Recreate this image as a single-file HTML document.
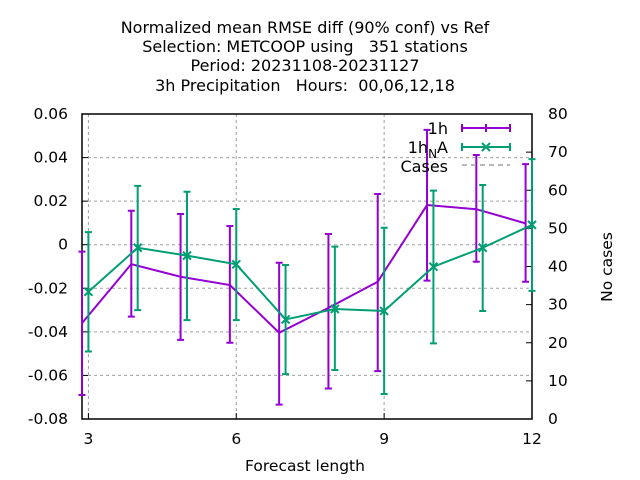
<!DOCTYPE html>
<html><head><meta charset="utf-8"><style>
body{margin:0;background:#fff;}
svg{display:block;font-family:"DejaVu Sans","Liberation Sans",sans-serif;}
text{white-space:pre;}
</style></head><body>
<svg id="chart" width="640" height="480" viewBox="0 0 640 480">
<g font-size="16" text-anchor="middle" fill="#000">
<text x="305" y="33" xml:space="preserve">Normalized mean RMSE diff (90% conf) vs Ref</text>
<text x="305" y="52" xml:space="preserve">Selection: METCOOP using   351 stations</text>
<text x="305" y="71" xml:space="preserve">Period: 20231108-20231127</text>
<text x="305" y="91" xml:space="preserve">3h Precipitation   Hours:  00,06,12,18</text>
</g>
<text x="305" y="471" font-size="15.5" text-anchor="middle">Forecast length</text>
<text x="0" y="0" font-size="15.5" text-anchor="middle" transform="translate(612,267) rotate(-90)">No cases</text>
<g id="grid"></g><g id="axes"></g><g id="series"></g>
<g font-size="16" text-anchor="end">
<text x="448" y="134">1h</text>
<text x="448" y="153"><tspan>1h</tspan><tspan dy="5" font-size="12">N</tspan><tspan dy="-5">A</tspan></text>
<text x="448" y="172">Cases</text>
<g stroke="#9400d3" stroke-width="2"><line x1="462" y1="128" x2="510" y2="128"/><line x1="462" y1="124" x2="462" y2="132"/><line x1="510" y1="124" x2="510" y2="132"/><line x1="486" y1="124" x2="486" y2="132"/></g>
<g stroke="#009e73" stroke-width="2"><line x1="462" y1="147" x2="510" y2="147"/><line x1="462" y1="143" x2="462" y2="151"/><line x1="510" y1="143" x2="510" y2="151"/><path d="M482 143 L490 151 M482 151 L490 143"/></g>
<line x1="462" y1="165" x2="510" y2="165" stroke="#a0a0a0" stroke-width="1.5" stroke-dasharray="5,4"/>
</g>
</svg>
<script>
const xTicks=[3,6,9,12];
const yTicks=[-0.08,-0.06,-0.04,-0.02,0,0.02,0.04,0.06];
const yTickLabels=["-0.08","-0.06","-0.04","-0.02","0","0.02","0.04","0.06"];
const y2Ticks=[0,10,20,30,40,50,60,70,80];
const x1h=[2.87,3.87,4.87,5.87,6.87,7.87,8.87,9.87,10.87,11.87];
const v1h=[-0.036,-0.0089,-0.0147,-0.0185,-0.0404,-0.029,-0.017,0.0182,0.0163,0.0098];
const lo1h=[-0.069,-0.033,-0.0437,-0.045,-0.0734,-0.066,-0.058,-0.0165,-0.0078,-0.017];
const hi1h=[-0.0032,0.0156,0.0141,0.0086,-0.0083,0.0049,0.0233,0.0527,0.0412,0.037];
const xNA=[3,4,5,6,7,8,9,10,11,12];
const vNA=[-0.0216,-0.0014,-0.005,-0.009,-0.0343,-0.0295,-0.0304,-0.0101,-0.0014,0.0091];
const loNA=[-0.049,-0.030,-0.0346,-0.0346,-0.0594,-0.0575,-0.0685,-0.0453,-0.0304,-0.0212];
const hiNA=[0.0058,0.027,0.0243,0.0164,-0.0093,-0.0009,0.0078,0.0248,0.0274,0.0393];

const L=82,R=532,T=114,B=419,XMIN=2.87,XMAX=12,YMIN=-0.08,YMAX=0.06;
const sx=v=>L+(v-XMIN)/(XMAX-XMIN)*(R-L);
const sy=v=>B-(v-YMIN)/(YMAX-YMIN)*(B-T);
const sy2=v=>B-v/80*(B-T);
const NS="http://www.w3.org/2000/svg";
function mk(tag,attrs,parent){const e=document.createElementNS(NS,tag);for(const k in attrs)e.setAttribute(k,attrs[k]);parent.appendChild(e);return e;}
const grid=document.getElementById('grid'),axes=document.getElementById('axes'),ser=document.getElementById('series');
yTicks.forEach((t,i)=>{
  const y=sy(t);
  if(i>0&&i<yTicks.length-1){const g=mk('line',{x1:L,x2:R,y1:y,y2:y,stroke:'#a0a0a0','stroke-dasharray':'3,3','stroke-width':1},grid);
  
  }
  const tk=mk('line',{x1:L,x2:L+6,y1:y,y2:y,stroke:'#000'},axes);
  
  
  const tx=mk('text',{x:L-14,y:y+5,'font-size':15.5,'text-anchor':'end'},axes);tx.textContent=yTickLabels[i];
  
  
});
xTicks.forEach(t=>{
  const x=sx(t);
  if(t<12){const g=mk('line',{x1:x,x2:x,y1:T,y2:B,stroke:'#a0a0a0','stroke-dasharray':'3,3'},grid);
  
  }
  const tk=mk('line',{x1:x,x2:x,y1:B,y2:B-6,stroke:'#000'},axes);
  
  
  const tx=mk('text',{x:x,y:B+25,'font-size':15.5,'text-anchor':'middle'},axes);tx.textContent=t;
  
  
});
y2Ticks.forEach(t=>{
  const y=sy2(t);
  const tk=mk('line',{x1:R,x2:R-6,y1:y,y2:y,stroke:'#000'},axes);
  
  
  const tx=mk('text',{x:R+16,y:y+5,'font-size':15.5,'text-anchor':'start'},axes);tx.textContent=t;
  
  
});
const fr=mk('rect',{x:L,y:T,width:R-L,height:B-T,fill:'none',stroke:'#000','stroke-width':1.5},axes);



function series(xs,vs,lo,hi,color,name,cross){
  const g=mk('g',{stroke:color,'stroke-width':2,fill:'none'},ser);
  
  
  const line=mk('polyline',{points:xs.map((x,i)=>sx(x)+','+sy(vs[i])).join(' ')},g);
  
  
  xs.forEach((x,i)=>{
    const px=sx(x),a=sy(hi[i]),b=sy(lo[i]);
    const e=mk('path',{d:`M${px} ${a} V${b} M${px-3.5} ${a} H${px+3.5} M${px-3.5} ${b} H${px+3.5}`},g);
    
    
    if(cross){const py=sy(vs[i]);
      const c=mk('path',{d:`M${px-4} ${py-4} L${px+4} ${py+4} M${px-4} ${py+4} L${px+4} ${py-4}`},g);
      
      }
  });
}
series(x1h,v1h,lo1h,hi1h,'#9400d3','series-1h',false);
series(xNA,vNA,loNA,hiNA,'#009e73','series-1h-na',true);
</script>
</body></html>
